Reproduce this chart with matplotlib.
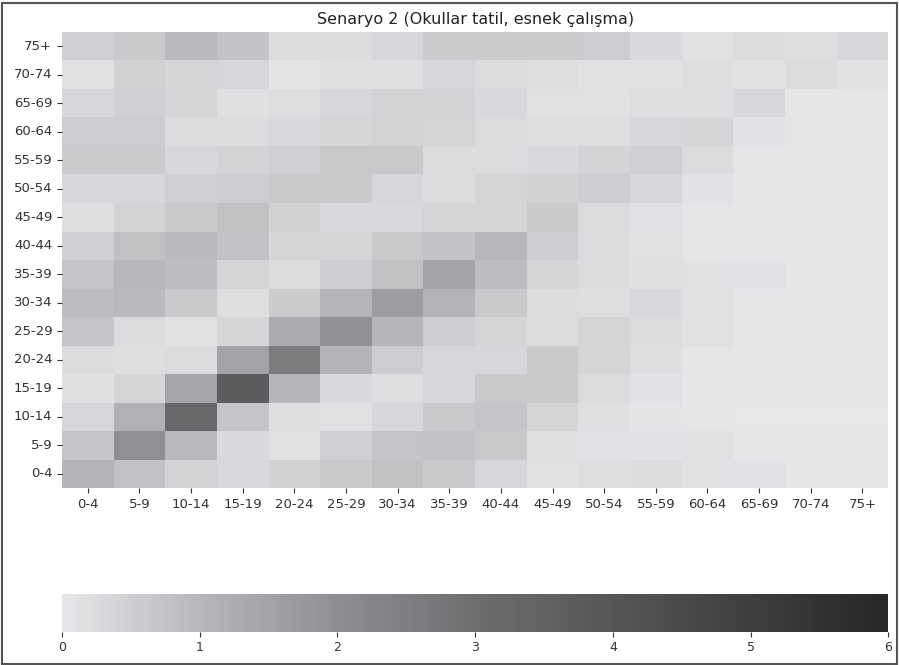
import numpy as np
import matplotlib
matplotlib.use("Agg")
import matplotlib.pyplot as plt
from matplotlib.colors import LinearSegmentedColormap
from matplotlib.patches import Rectangle
import seaborn as sns

age_groups = ["0-4", "5-9", "10-14", "15-19", "20-24", "25-29", "30-34", "35-39",
              "40-44", "45-49", "50-54", "55-59", "60-64", "65-69", "70-74", "75+"]

# contact matrix, rows = age group of respondent (0-4 first), cols = contact age group
contacts = np.array([
    [1.10, 0.78, 0.43, 0.29, 0.45, 0.65, 0.80, 0.61, 0.33, 0.14, 0.20, 0.24, 0.12, 0.10, 0.04, 0.04],  # 0-4
    [0.71, 2.00, 0.98, 0.29, 0.14, 0.47, 0.71, 0.75, 0.65, 0.16, 0.10, 0.10, 0.12, 0.04, 0.04, 0.04],  # 5-9
    [0.33, 1.17, 3.28, 0.71, 0.20, 0.12, 0.33, 0.61, 0.71, 0.39, 0.16, 0.08, 0.04, 0.02, 0.02, 0.02],  # 10-14
    [0.16, 0.39, 1.46, 3.72, 1.05, 0.29, 0.20, 0.35, 0.61, 0.61, 0.27, 0.10, 0.04, 0.04, 0.04, 0.04],  # 15-19
    [0.24, 0.20, 0.27, 1.51, 2.57, 1.10, 0.55, 0.35, 0.33, 0.61, 0.39, 0.20, 0.06, 0.04, 0.04, 0.04],  # 20-24
    [0.71, 0.24, 0.12, 0.37, 1.29, 1.95, 1.05, 0.55, 0.39, 0.27, 0.39, 0.24, 0.12, 0.04, 0.04, 0.04],  # 25-29
    [0.88, 0.96, 0.61, 0.20, 0.57, 1.07, 1.66, 1.08, 0.65, 0.24, 0.20, 0.29, 0.12, 0.04, 0.04, 0.04],  # 30-34
    [0.71, 1.02, 0.88, 0.39, 0.24, 0.55, 0.82, 1.48, 0.88, 0.39, 0.24, 0.16, 0.12, 0.10, 0.04, 0.04],  # 35-39
    [0.47, 0.82, 0.94, 0.78, 0.39, 0.39, 0.65, 0.73, 1.02, 0.53, 0.24, 0.12, 0.06, 0.04, 0.04, 0.04],  # 40-44
    [0.20, 0.43, 0.65, 0.82, 0.45, 0.29, 0.29, 0.39, 0.39, 0.63, 0.27, 0.10, 0.06, 0.04, 0.04, 0.04],  # 45-49
    [0.31, 0.31, 0.51, 0.55, 0.65, 0.61, 0.33, 0.27, 0.39, 0.45, 0.53, 0.33, 0.10, 0.04, 0.04, 0.04],  # 50-54
    [0.59, 0.59, 0.35, 0.43, 0.51, 0.65, 0.65, 0.24, 0.24, 0.29, 0.41, 0.51, 0.24, 0.06, 0.04, 0.04],  # 55-59
    [0.55, 0.55, 0.24, 0.24, 0.29, 0.39, 0.43, 0.39, 0.27, 0.20, 0.20, 0.31, 0.37, 0.10, 0.06, 0.04],  # 60-64
    [0.33, 0.47, 0.39, 0.16, 0.20, 0.33, 0.43, 0.41, 0.29, 0.12, 0.12, 0.20, 0.20, 0.33, 0.04, 0.04],  # 65-69
    [0.12, 0.45, 0.37, 0.33, 0.08, 0.18, 0.18, 0.33, 0.27, 0.20, 0.12, 0.12, 0.20, 0.12, 0.27, 0.12],  # 70-74
    [0.51, 0.61, 0.94, 0.73, 0.24, 0.24, 0.33, 0.57, 0.57, 0.57, 0.55, 0.29, 0.12, 0.27, 0.20, 0.33],  # 75+
])

title = "Senaryo 2 (Okullar tatil, esnek çalışma)"

# grey ramp as it appears in the printed figure
cmap = LinearSegmentedColormap.from_list(
    "grey_ramp",
    [(0 / 6, "#e6e7e9"), (1 / 6, "#b6b7ba"), (2 / 6, "#8e8f92"), (3 / 6, "#6e6e71"),
     (4 / 6, "#565658"), (5 / 6, "#3e3e40"), (6 / 6, "#282626")])

fig = plt.figure(figsize=(8.99, 6.65), dpi=100)
ax = fig.add_axes([0.069, 0.266, 0.919, 0.686])
cax = fig.add_axes([0.069, 0.050, 0.919, 0.057])

sns.heatmap(contacts, cmap=cmap, vmin=0, vmax=6, ax=ax, cbar_ax=cax,
            cbar_kws={"orientation": "horizontal"},
            xticklabels=age_groups, yticklabels=age_groups)
ax.invert_yaxis()
ax.set_title(title, fontsize=11.5, color="#222222", pad=6)
ax.tick_params(axis="both", labelsize=9.5, colors="#333333", length=3.5)
plt.setp(ax.get_xticklabels(), rotation=0)
plt.setp(ax.get_yticklabels(), rotation=0)

cax.tick_params(labelsize=9, colors="#333333", length=3.5)
cax.set_xticks([0, 1, 2, 3, 4, 5, 6])

# thin frame around the whole picture
fig.patches.append(Rectangle((0.002, 0.002), 0.996, 0.994, transform=fig.transFigure,
                             fill=False, edgecolor="#555555", linewidth=1.5))

fig.savefig("out.png", dpi=100)
